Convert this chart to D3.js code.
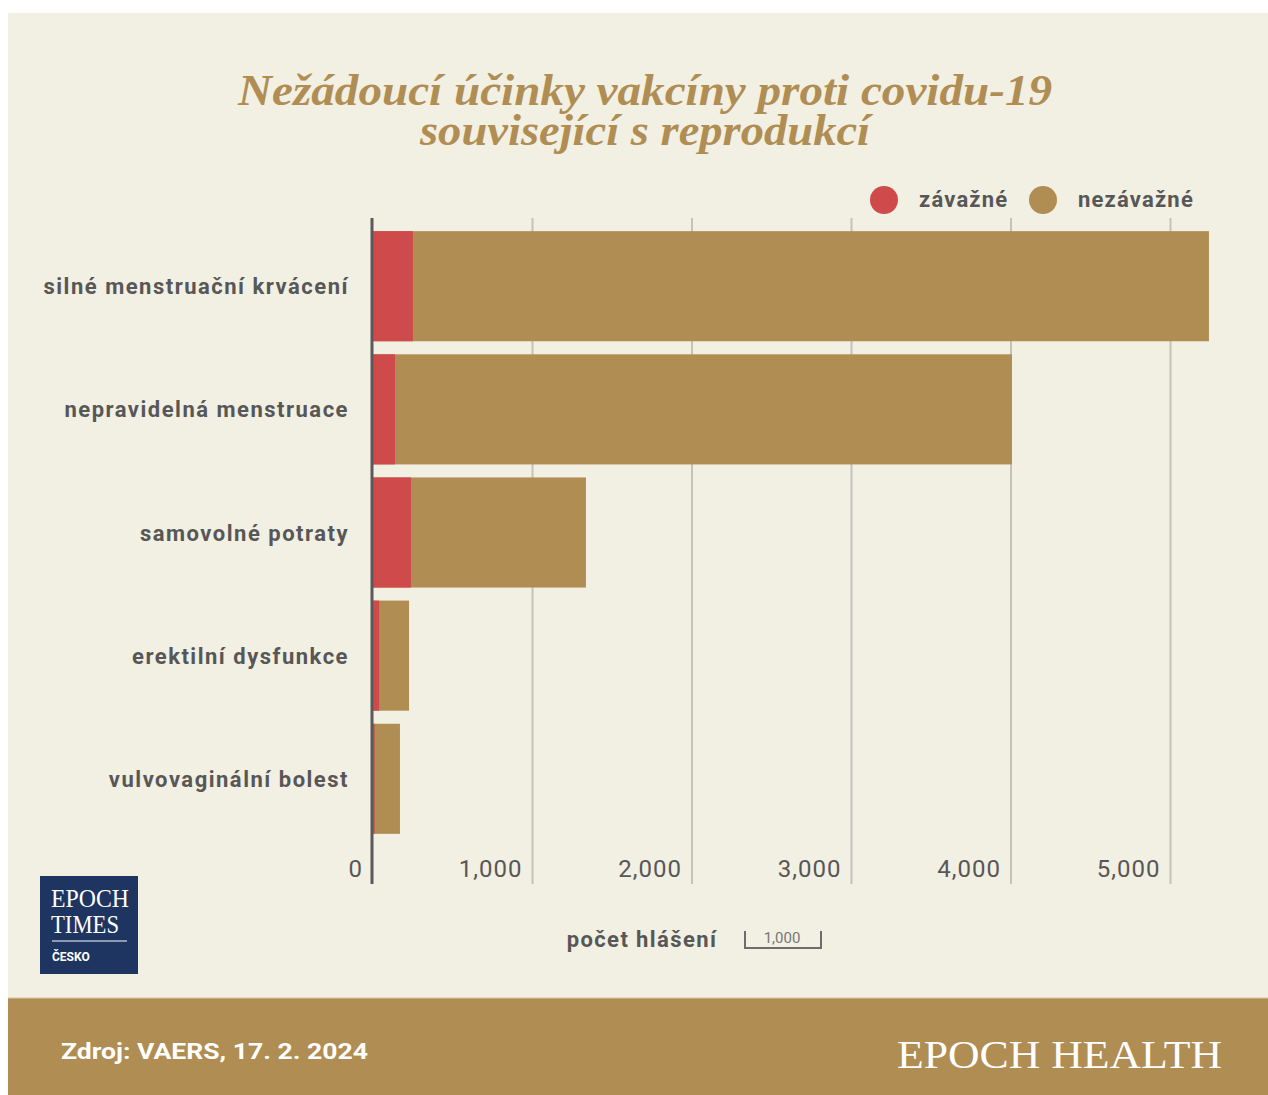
<!DOCTYPE html>
<html>
<head>
<meta charset="utf-8">
<script src="https://cdn.jsdelivr.net/npm/d3@7"></script>
<style>
  body { margin: 0; background: #ffffff; }
  svg { display: block; }
</style>
</head>
<body>
<svg id="chart" width="1268" height="1095"></svg>
<script>
// data
var categories = ["silné menstruační krvácení", "nepravidelná menstruace", "samovolné potraty", "erektilní dysfunkce", "vulvovaginální bolest"];
var serious = [250, 138, 238, 38, 10];
var nonSerious = [4991, 3868, 1097, 188, 159];
var ticks = [0, 1000, 2000, 3000, 4000, 5000];
var seriesNames = ["závažné", "nezávažné"];
var colors = ["#cf4a4b", "#b08d52"];

var svg = d3.select("#chart");
var sans = "Roboto, 'Liberation Sans', sans-serif";
var serif = "'Liberation Serif', 'DejaVu Serif', serif";
var grey = "#575757";

// card background
svg.append("rect").attr("x", 8).attr("y", 13).attr("width", 1260).attr("height", 1082).attr("fill", "#f2efe3");
svg.append("rect").attr("x", 8).attr("y", 998).attr("width", 1260).attr("height", 97).attr("fill", "#b08d52");
svg.append("line").attr("x1", 8).attr("x2", 1268).attr("y1", 998).attr("y2", 998).attr("stroke", "#d8c9a6").attr("stroke-width", 1);

// title
var title = svg.append("g").attr("font-family", serif).attr("font-weight", "bold").attr("font-style", "italic")
    .attr("fill", "#b08d52").attr("font-size", 44).attr("text-anchor", "middle");
title.append("text").attr("x", 645).attr("y", 105).attr("textLength", 814).attr("lengthAdjust", "spacingAndGlyphs")
    .text("Nežádoucí účinky vakcíny proti covidu-19");
title.append("text").attr("x", 645).attr("y", 145).attr("textLength", 450).attr("lengthAdjust", "spacingAndGlyphs")
    .text("související s reprodukcí");

// legend
var legendX = [884, 1043];
seriesNames.forEach(function(name, i){
    svg.append("circle").attr("cx", legendX[i]).attr("cy", 200).attr("r", 14).attr("fill", colors[i]);
    svg.append("text").attr("x", legendX[i] + 35).attr("y", 207)
        .attr("font-family", sans).attr("font-weight", "bold").attr("font-size", 22)
        .attr("letter-spacing", 1.2)
        .attr("fill", grey).text(name);
});

// scales
var x = d3.scaleLinear().domain([0, 1000]).range([373, 532.5]);
var y = d3.scaleBand().domain(categories).range([225, 840]).paddingInner(0.106).paddingOuter(0.05);

var yTop = 218, yBottom = 884;

// gridlines
svg.append("g").selectAll("line")
    .data(ticks.slice(1))
    .enter().append("line")
    .attr("x1", function(d){ return x(d); })
    .attr("x2", function(d){ return x(d); })
    .attr("y1", yTop).attr("y2", yBottom)
    .attr("stroke", "#c4c2bb").attr("stroke-width", 2);

// tick labels
svg.append("g").selectAll("text")
    .data(ticks)
    .enter().append("text")
    .attr("x", function(d){ return x(d) - 10; })
    .attr("y", 877)
    .attr("text-anchor", "end")
    .attr("font-family", sans).attr("font-size", 24).attr("letter-spacing", 1)
    .attr("fill", grey)
    .text(function(d){ return d3.format(",")(d); });

// bars
var stack = categories.map(function(c, i){
    return {cat: c, s: serious[i], n: nonSerious[i]};
});
var rows = svg.append("g").selectAll("g")
    .data(stack)
    .enter().append("g");
rows.append("rect")
    .attr("x", x(0))
    .attr("y", function(d){ return y(d.cat); })
    .attr("width", function(d){ return x(d.s + d.n) - x(0); })
    .attr("height", y.bandwidth())
    .attr("fill", colors[1]);
rows.append("rect")
    .attr("x", x(0))
    .attr("y", function(d){ return y(d.cat); })
    .attr("width", function(d){ return x(d.s) - x(0); })
    .attr("height", y.bandwidth())
    .attr("fill", colors[0]);

// category labels
rows.append("text")
    .attr("x", 349)
    .attr("y", function(d){ return y(d.cat) + y.bandwidth()/2 + 8; })
    .attr("text-anchor", "end")
    .attr("font-family", sans).attr("font-weight", "bold").attr("font-size", 22)
    .attr("letter-spacing", 1.5)
    .attr("fill", grey)
    .text(function(d){ return d.cat; });

// zero axis
svg.append("line").attr("x1", x(0) - 1).attr("x2", x(0) - 1).attr("y1", yTop).attr("y2", yBottom)
    .attr("stroke", "#5a5a5a").attr("stroke-width", 3);

// axis title and scale bracket
svg.append("text").attr("x", 642).attr("y", 947).attr("text-anchor", "middle")
    .attr("font-family", sans).attr("font-weight", "bold").attr("font-size", 22)
    .attr("letter-spacing", 1.4)
    .attr("fill", grey).text("počet hlášení");
svg.append("path").attr("d", "M745,931 V948 H821 V931")
    .attr("fill", "none").attr("stroke", "#6d6d6d").attr("stroke-width", 2);
svg.append("text").attr("x", 782).attr("y", 943).attr("text-anchor", "middle")
    .attr("font-family", sans).attr("font-size", 15).attr("fill", "#777").text("1,000");

// Epoch Times logo
var logo = svg.append("g");
logo.append("rect").attr("x", 40).attr("y", 876).attr("width", 98).attr("height", 98).attr("fill", "#1e3461");
logo.append("text").attr("x", 51).attr("y", 907).attr("font-family", serif).attr("font-size", 25)
    .attr("fill", "#fff").attr("textLength", 78).attr("lengthAdjust", "spacingAndGlyphs").text("EPOCH");
logo.append("text").attr("x", 51).attr("y", 933).attr("font-family", serif).attr("font-size", 25)
    .attr("fill", "#fff").attr("textLength", 68).attr("lengthAdjust", "spacingAndGlyphs").text("TIMES");
logo.append("line").attr("x1", 52).attr("x2", 127).attr("y1", 941).attr("y2", 941).attr("stroke", "#fff").attr("stroke-width", 1);
logo.append("text").attr("x", 52).attr("y", 961).attr("font-family", sans).attr("font-weight", "bold")
    .attr("font-size", 12).attr("fill", "#fff").text("ČESKO");

// footer
svg.append("text").attr("x", 61).attr("y", 1059).attr("font-family", sans).attr("font-weight", "bold")
    .attr("font-size", 22).attr("fill", "#fff").attr("textLength", 307).attr("lengthAdjust", "spacingAndGlyphs")
    .text("Zdroj: VAERS, 17. 2. 2024");
svg.append("text").attr("x", 897).attr("y", 1068).attr("font-family", serif)
    .attr("font-size", 40).attr("fill", "#fff").attr("textLength", 325).attr("lengthAdjust", "spacingAndGlyphs")
    .text("EPOCH HEALTH");
</script>
</body>
</html>
